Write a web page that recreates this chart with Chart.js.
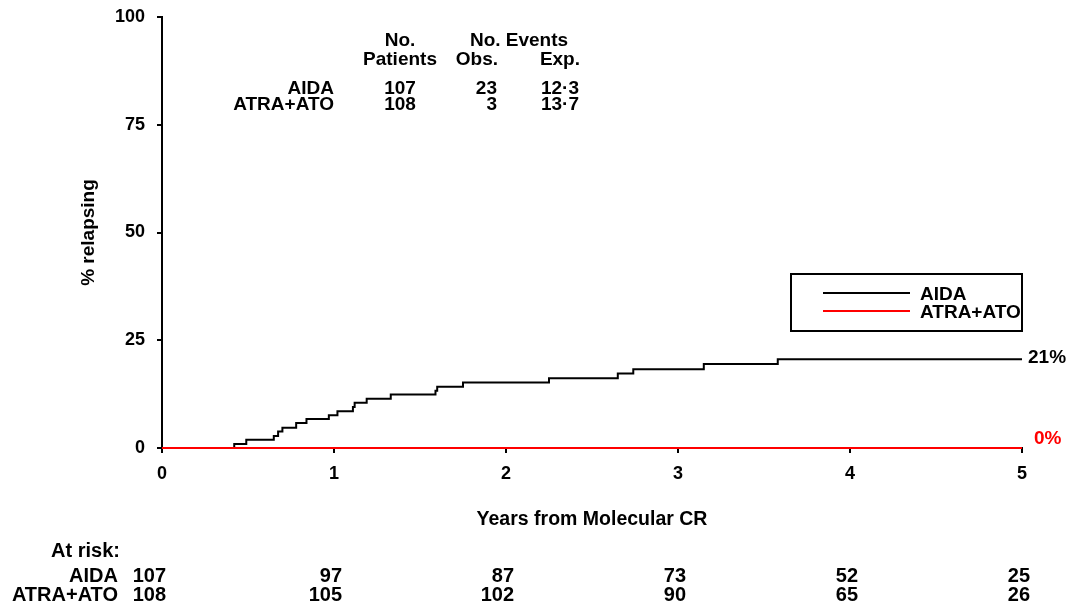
<!DOCTYPE html>
<html>
<head>
<meta charset="utf-8">
<script src="https://cdn.jsdelivr.net/npm/chart.js@4.4.1/dist/chart.umd.min.js"></script>
<style>
  body { margin: 0; background: #fff; }
</style>
</head>
<body>
<canvas id="kmChart" width="1070" height="610"></canvas>
<script>
// relapse curve (years, % relapsing)
const aidaYears = [0, 0.42, 0.49, 0.65, 0.675, 0.70, 0.78, 0.84, 0.97, 1.02, 1.11, 1.12, 1.19, 1.33, 1.59, 1.60, 1.75, 2.25, 2.65, 2.74, 3.15, 3.58, 5];
const aidaPct   = [0, 0.9, 1.9, 2.8, 3.8, 4.7, 5.8, 6.7, 7.6, 8.5, 9.5, 10.5, 11.4, 12.4, 13.3, 14.2, 15.2, 16.2, 17.3, 18.3, 19.5, 20.6, 20.6];
const atraYears = [0, 5];
const atraPct   = [0, 0];

const groups    = ['AIDA', 'ATRA+ATO'];
const nPatients = [107, 108];
const obsEvents = [23, 3];
const expEvents = ['12·3', '13·7'];
const endLabels = ['21%', '0%'];

const riskYears = [0, 1, 2, 3, 4, 5];
const riskAIDA  = [107, 97, 87, 73, 52, 25];
const riskATRA  = [108, 105, 102, 90, 65, 26];

const FONT = "'Liberation Sans', Arial, Helvetica, sans-serif";
Chart.defaults.font.family = FONT;
Chart.defaults.font.size = 18;
Chart.defaults.font.weight = 'bold';
Chart.defaults.color = '#000';

function pts(xs, ys) {
  return xs.map((x, i) => ({ x: x, y: ys[i] }));
}

const extras = {
  id: 'extras',
  afterDraw(chart) {
    const ctx = chart.ctx;
    const xs = chart.scales.x, ys = chart.scales.y;
    ctx.save();
    ctx.font = 'bold 19px ' + FONT;
    ctx.fillStyle = '#000';
    ctx.textBaseline = 'alphabetic';

    // numbers table
    ctx.textAlign = 'center';
    ctx.fillText('No.', 400, 46);
    ctx.fillText('Patients', 400, 65);
    ctx.fillText('No. Events', 519, 46);
    ctx.textAlign = 'right';
    ctx.fillText('Obs.', 498, 65);
    ctx.fillText('Exp.', 580, 65);
    const rowY = [94, 110];
    groups.forEach((g, i) => {
      ctx.textAlign = 'right';
      ctx.fillText(g, 334, rowY[i]);
      ctx.fillText(String(obsEvents[i]), 497, rowY[i]);
      ctx.fillText(expEvents[i], 579, rowY[i]);
      ctx.textAlign = 'center';
      ctx.fillText(String(nPatients[i]), 400, rowY[i]);
    });

    // legend box
    ctx.lineWidth = 2;
    ctx.strokeStyle = '#000';
    ctx.strokeRect(791, 274, 231, 57);
    const legColors = ['#000', '#ff0000'];
    const legY = [293, 311];
    groups.forEach((g, i) => {
      ctx.strokeStyle = legColors[i];
      ctx.beginPath();
      ctx.moveTo(823, legY[i]);
      ctx.lineTo(910, legY[i]);
      ctx.stroke();
      ctx.textAlign = 'left';
      ctx.fillStyle = '#000';
      ctx.fillText(g, 920, legY[i] + 7);
    });

    // end-of-curve labels
    const xEnd = xs.getPixelForValue(5);
    ctx.textAlign = 'left';
    ctx.fillStyle = '#000';
    ctx.fillText(endLabels[0], xEnd + 6, ys.getPixelForValue(aidaPct[aidaPct.length - 1]) + 4);
    ctx.fillStyle = '#ff0000';
    ctx.fillText(endLabels[1], xEnd + 12, ys.getPixelForValue(0) - 4);

    // numbers at risk
    ctx.font = 'bold 20px ' + FONT;
    ctx.fillStyle = '#000';
    ctx.textAlign = 'right';
    ctx.fillText('At risk:', 120, 557);
    ctx.fillText(groups[0], 118, 582);
    ctx.fillText(groups[1], 118, 601);
    riskYears.forEach((t, i) => {
      const px = xs.getPixelForValue(t) + (i === 0 ? 4 : 8);
      ctx.fillText(String(riskAIDA[i]), px, 582);
      ctx.fillText(String(riskATRA[i]), px, 601);
    });
    ctx.restore();
  }
};

new Chart(document.getElementById('kmChart'), {
  type: 'line',
  data: {
    datasets: [
      {
        label: 'ATRA+ATO',
        data: pts(atraYears, atraPct),
        borderColor: '#ff0000',
        borderWidth: 2,
        pointRadius: 0,
        stepped: 'before',
        clip: false
      },
      {
        label: 'AIDA',
        data: pts(aidaYears, aidaPct),
        borderColor: '#000',
        borderWidth: 2,
        pointRadius: 0,
        stepped: 'before',
        clip: false
      }
    ]
  },
  options: {
    responsive: false,
    animation: false,
    devicePixelRatio: 1,
    layout: { padding: { left: 0, right: 48, top: 0, bottom: 72 } },
    plugins: {
      legend: { display: false },
      tooltip: { enabled: false }
    },
    scales: {
      x: {
        type: 'linear',
        min: 0,
        max: 5,
        ticks: { stepSize: 1, padding: 10, color: '#000' },
        grid: { drawOnChartArea: false, drawTicks: true, tickLength: 5, color: '#000', lineWidth: 2 },
        border: { display: true, color: '#000', width: 2 },
        title: { display: true, text: 'Years from Molecular CR', font: { size: 19.5 }, padding: { top: 0, bottom: 7 } },
        afterFit(scale) { scale.height = 90; }
      },
      y: {
        min: 0,
        max: 100,
        ticks: { stepSize: 25, padding: 12, color: '#000' },
        grid: { drawOnChartArea: false, drawTicks: true, tickLength: 5, color: '#000', lineWidth: 2 },
        border: { display: true, color: '#000', width: 2 },
        title: { display: true, text: '% relapsing', font: { size: 19 }, padding: { top: 77, bottom: 0 } },
        afterFit(scale) {
          scale.width = 162;
          scale.paddingTop = 17;
          scale.paddingBottom = 0;
        }
      }
    }
  },
  plugins: [extras]
});
</script>
</body>
</html>
